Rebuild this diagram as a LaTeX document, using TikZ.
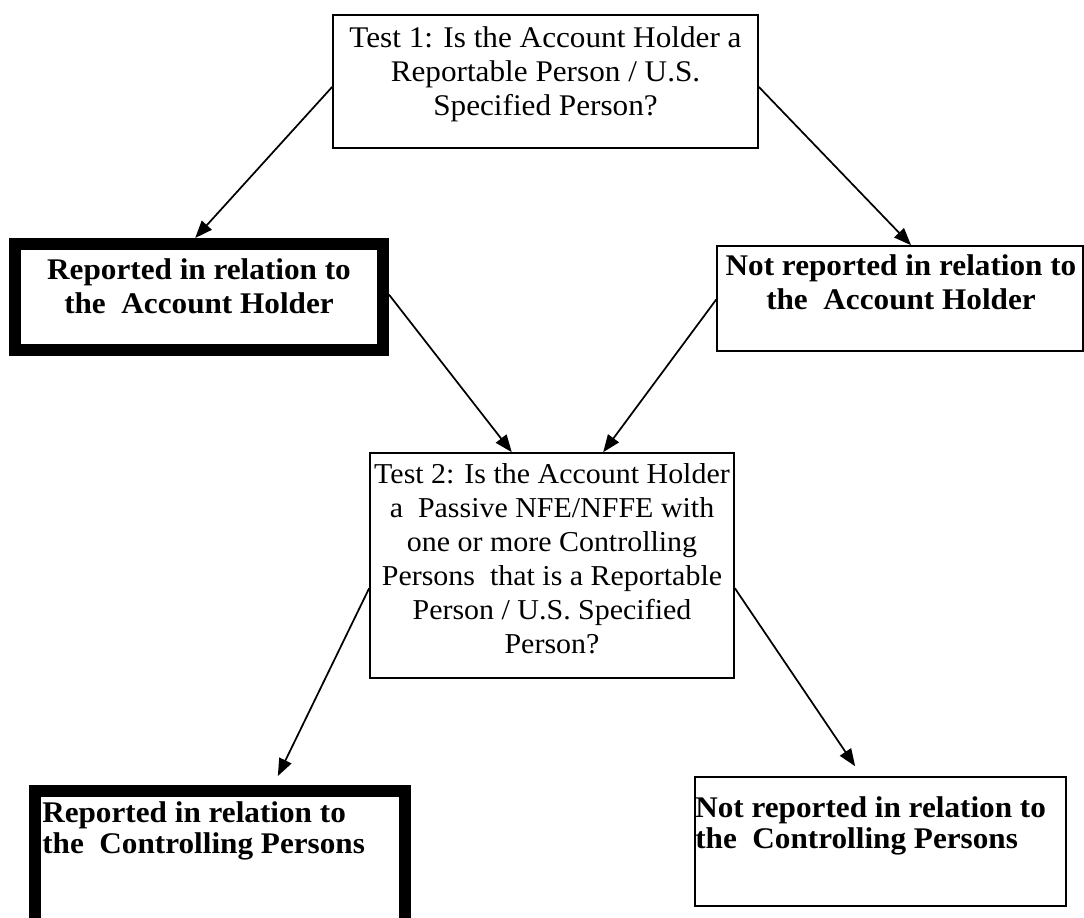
\documentclass[tikz,border=0pt]{standalone}
\usepackage{fontspec}
\setmainfont{Liberation Serif}[FakeStretch=1.04]
\usetikzlibrary{arrows.meta,calc}
\tikzset{
  box/.style={draw=black, line width=1.2pt, inner sep=0pt, fill=none},
  thickbox/.style={draw=black, line width=9pt, inner sep=0pt},
  txt/.style={inner sep=0pt, font=\fontsize{22.5}{25.5}\selectfont},
  txts/.style={inner sep=0pt, font=\fontsize{21.6}{25.5}\selectfont},
  btxt/.style={inner sep=0pt, font=\fontsize{22.5}{25.5}\selectfont\bfseries},
  btxtl/.style={inner sep=0pt, align=left, font=\fontsize{22.5}{23.25}\selectfont\bfseries},
  arr/.style={line width=1.3pt, -{Triangle[length=13pt,width=10pt]}}
}
\begin{document}
\begin{tikzpicture}[x=0.75pt,y=-0.75pt]
\clip (0,0) rectangle (1084,917);
\fill[white] (0,0) rectangle (1084,917);
% boxes
\node[box, minimum width=318.75pt, minimum height=99.75pt] (b1) at (545.5,81.5) {};
\node[thickbox, minimum width=276pt, minimum height=79.5pt] (b2) at (199,297) {};
\node[box, minimum width=274.5pt, minimum height=78.75pt] (b3) at (900,298.5) {};
\node[box, minimum width=273pt, minimum height=168.75pt] (b4) at (552,565.5) {};
\node[thickbox, minimum width=277.5pt, minimum height=104.25pt] (b5) at (220,860.5) {};
\node[box, minimum width=278.25pt, minimum height=96.75pt] (b6) at (880.5,841.5) {};
% texts (anchored at the baseline of their last line)
\node[txt, align=center, anchor=base] (t1) at (545.5,115) {Test 1: Is the Account Holder a\\Reportable Person / U.S.\\Specified Person?};
\node[btxt, align=center, anchor=base] (t2) at (199,313) {Reported in relation to\\the\ \ Account Holder};
\node[btxt, align=center, anchor=base] (t3) at (901,309) {Not reported in relation to\\the\ \ Account Holder};
\node[txts, align=center, anchor=base] (t4) at (552,653) {Test 2: Is the Account Holder\\a\ \ Passive NFE/NFFE with\\one or more Controlling\\Persons\ \ that is a Reportable\\Person / U.S. Specified\\Person?};
\node[btxtl, anchor=base west] (t5) at (42,853) {Reported in relation to\\the\ \ Controlling Persons};
\node[btxtl, anchor=base west] (t6) at (695,848) {Not reported in relation to\\the\ \ Controlling Persons};
% connectors
\draw[arr] ($(b1.north west)!0.54!(b1.south west)$) -- ($(b2.north west)!0.49!(b2.north east)$);
\draw[arr] ($(b1.north east)!0.54!(b1.south east)$) -- ($(b3.north west)!0.53!(b3.north east)$);
\draw[arr] ($(b2.north east)!0.48!(b2.south east)$) -- ($(b4.north west)!0.39!(b4.north east)$);
\draw[arr] ($(b3.north west)!0.51!(b3.south west)$) -- ($(b4.north west)!0.64!(b4.north east)$);
\draw[arr, shorten >=7.5pt] ($(b4.north west)!0.6!(b4.south west)$) -- ($(b5.north west)!0.64!(b5.north east)$);
\draw[arr, shorten >=9pt] ($(b4.north east)!0.6!(b4.south east)$) -- ($(b6.north west)!0.45!(b6.north east)$);
\end{tikzpicture}
\end{document}
